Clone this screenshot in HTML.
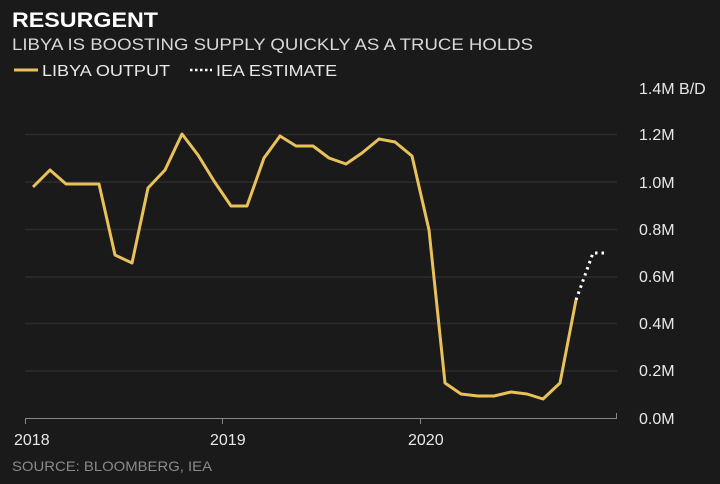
<!DOCTYPE html>
<html><head><style>
body{margin:0;background:#1a1a1a;}
svg text{font-family:"Liberation Sans",sans-serif;}
</style></head><body>
<svg width="720" height="479" viewBox="0 0 720 479" xmlns="http://www.w3.org/2000/svg">
<rect width="720" height="479" fill="#1a1a1a"/>
<text x="12" y="27" font-size="21" font-weight="bold" fill="#fff" textLength="146" lengthAdjust="spacingAndGlyphs">RESURGENT</text>
<text x="12" y="50" font-size="16.5" fill="#d8d8d8" textLength="521" lengthAdjust="spacingAndGlyphs">LIBYA IS BOOSTING SUPPLY QUICKLY AS A TRUCE HOLDS</text>
<line x1="14" y1="70" x2="38" y2="70" stroke="#e8c15a" stroke-width="3"/>
<text x="42" y="76" font-size="16" fill="#e8e8e8" textLength="128" lengthAdjust="spacingAndGlyphs">LIBYA OUTPUT</text>
<line x1="190" y1="70" x2="212" y2="70" stroke="#fff" stroke-width="2.5" stroke-dasharray="2.5,2.5"/>
<text x="216" y="76" font-size="16" fill="#e8e8e8" textLength="121" lengthAdjust="spacingAndGlyphs">IEA ESTIMATE</text>
<g stroke="#2c2c2c" stroke-width="1.5">
<line x1="25" y1="134.5" x2="617" y2="134.5"/>
<line x1="25" y1="182" x2="617" y2="182"/>
<line x1="25" y1="229.5" x2="617" y2="229.5"/>
<line x1="25" y1="277" x2="617" y2="277"/>
<line x1="25" y1="323.5" x2="617" y2="323.5"/>
<line x1="25" y1="371" x2="617" y2="371"/>
</g>
<g stroke="#888" stroke-width="1">
<line x1="25" y1="418.5" x2="617" y2="418.5"/>
<line x1="25.5" y1="418" x2="25.5" y2="424"/>
<line x1="222.5" y1="418" x2="222.5" y2="424"/>
<line x1="420.5" y1="418" x2="420.5" y2="424"/>
<line x1="616.5" y1="413" x2="616.5" y2="418"/>
</g>
<g font-size="16" fill="#e8e8e8">
<text x="14" y="445">2018</text>
<text x="210" y="445">2019</text>
<text x="408" y="445">2020</text>
<text x="639" y="94">1.4M B/D</text>
<text x="639" y="140">1.2M</text>
<text x="639" y="188">1.0M</text>
<text x="639" y="235">0.8M</text>
<text x="639" y="282">0.6M</text>
<text x="639" y="329">0.4M</text>
<text x="639" y="376">0.2M</text>
<text x="639" y="424">0.0M</text>
</g>
<text x="12" y="471" font-size="14" fill="#8a8a8a" textLength="200" lengthAdjust="spacingAndGlyphs">SOURCE: BLOOMBERG, IEA</text>
<polyline fill="none" stroke="#e8c15a" stroke-width="3" stroke-linejoin="round" points="33,187 50,170 66,184 82,184 99,184 115,255 132,263 148,188 165,170 182,134 198,155 214,181 231,206 247,206 264,158 280,136 296,146 313,146 329,158 346,164 362,153 379,139 395,142 412,156 429,230 445,383 461,394 478,396 494,396 511,392 527,394 543,399 560,383 576,300"/>
<polyline fill="none" stroke="#fff" stroke-width="3" stroke-dasharray="2.5,4" points="576,300 593,253 606,253"/>
</svg>
</body></html>
